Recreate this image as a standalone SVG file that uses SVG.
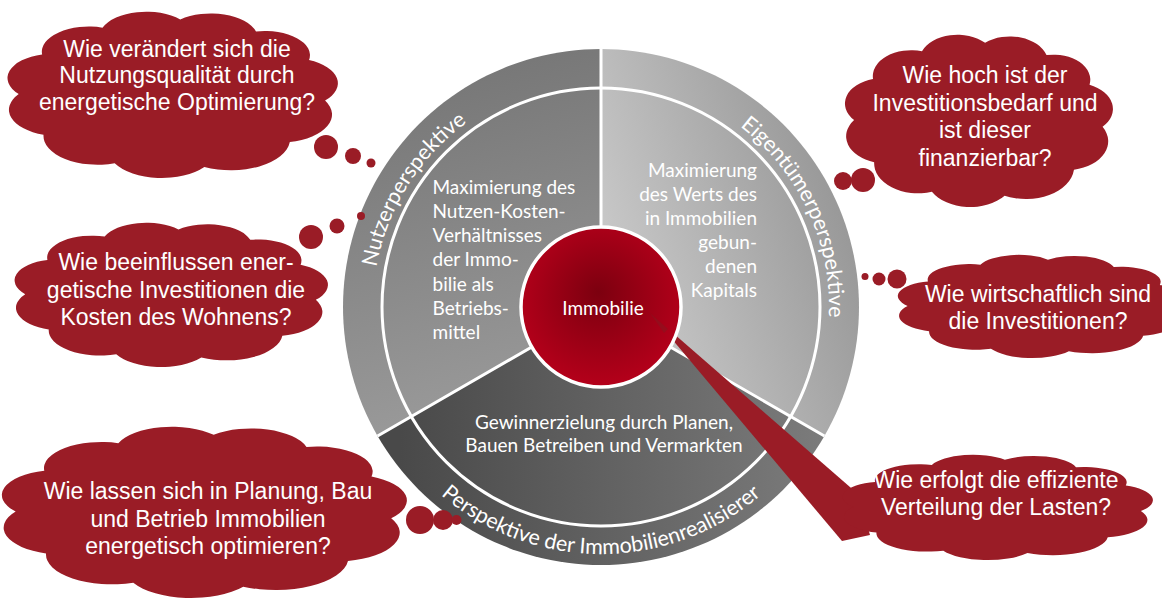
<svg xmlns="http://www.w3.org/2000/svg" xmlns:xlink="http://www.w3.org/1999/xlink" width="1162" height="600" viewBox="0 0 1162 600">
<style>
.cloud{fill:#9a1c26}
.ct{font-family:"Liberation Sans",Arial,sans-serif;font-size:23px;fill:#fff;text-anchor:middle}
.wt{font-family:Lato,"Open Sans",sans-serif;font-size:19px;fill:#fff}
.rt{font-family:Lato,"Open Sans",sans-serif;font-size:21.5px;fill:#fff}
.sep{stroke:#fff;stroke-width:3;fill:none}
</style>
<defs>
<path id="cloudShape" d="M6,50 A13,13 0 0 1 12.7,28.8 A13.5,13.5 0 0 1 30,14.4 A13.5,13.5 0 0 1 52.3,10 A13.5,13.5 0 0 1 74,16.4 A13,13 0 0 1 89.2,31.8 A13.5,13.5 0 0 1 93.8,53.5 A15,15 0 0 1 83.7,75.7 A17,17 0 0 1 59.2,89.1 A15.5,15.5 0 0 1 33.5,87.1 A15.5,15.5 0 0 1 13.1,71.8 A14,14 0 0 1 6,50 Z"/>
<linearGradient id="gL" gradientUnits="userSpaceOnUse" x1="420" y1="70" x2="520" y2="440"><stop offset="0" stop-color="#767676"/><stop offset="1" stop-color="#9d9d9d"/></linearGradient>
<linearGradient id="gR" gradientUnits="userSpaceOnUse" x1="630" y1="330" x2="860" y2="250"><stop offset="0" stop-color="#c9c9c9"/><stop offset="1" stop-color="#989898"/></linearGradient>
<linearGradient id="gB" gradientUnits="userSpaceOnUse" x1="400" y1="450" x2="820" y2="450"><stop offset="0" stop-color="#494949"/><stop offset="1" stop-color="#7b7b7b"/></linearGradient>
<radialGradient id="gC" gradientUnits="userSpaceOnUse" cx="601" cy="300" r="84" fx="598" fy="292"><stop offset="0" stop-color="#7c000f"/><stop offset="1" stop-color="#b3001a"/></radialGradient>
<path id="arcSide" d="M403.5,421 A228,228 0 1 1 798.5,421"/>
<path id="arcBottom" d="M368.9,391.5 A247,247 0 0 0 833.1,391.5"/>
</defs>

<g id="wheel">
  <g id="sector-nutzer">
    <path d="M601,307 L377.57,436 A258,258 0 0 1 601,49 Z" fill="url(#gL)"/>
  </g>
  <g id="sector-eigentuemer">
    <path d="M601,307 L601,49 A258,258 0 0 1 824.43,436 Z" fill="url(#gR)"/>
  </g>
  <g id="sector-realisierer">
    <path d="M601,307 L824.43,436 A258,258 0 0 1 377.57,436 Z" fill="url(#gB)"/>
  </g>
  <path class="sep" d="M601,307 L601,48 M601,307 L377.57,436 M601,307 L824.43,436"/>
  <circle class="sep" cx="601" cy="307" r="219" stroke-width="2.5"/>
  <text class="rt"><textPath xlink:href="#arcSide" href="#arcSide" startOffset="246.7" text-anchor="middle">Nutzerperspektive</textPath></text>
  <text class="rt"><textPath xlink:href="#arcSide" href="#arcSide" startOffset="736" text-anchor="middle">Eigentümerperspektive</textPath></text>
  <text class="rt"><textPath xlink:href="#arcBottom" href="#arcBottom" startOffset="50%" text-anchor="middle">Perspektive der Immobilienrealisierer</textPath></text>
  <text class="wt" x="432.5"><tspan x="432.5" y="193.7">Maximierung des</tspan><tspan x="432.5" y="217.9">Nutzen-Kosten-</tspan><tspan x="432.5" y="242.1">Verhältnisses</tspan><tspan x="432.5" y="266.3">der Immo-</tspan><tspan x="432.5" y="290.5">bilie als</tspan><tspan x="432.5" y="314.7">Betriebs-</tspan><tspan x="432.5" y="338.9">mittel</tspan></text>
  <text class="wt" text-anchor="end"><tspan x="757" y="176.8">Maximierung</tspan><tspan x="757" y="200.8">des Werts des</tspan><tspan x="757" y="224.8">in Immobilien</tspan><tspan x="757" y="248.8">gebun-</tspan><tspan x="757" y="272.8">denen</tspan><tspan x="757" y="296.8">Kapitals</tspan></text>
  <text class="wt" text-anchor="middle"><tspan x="604" y="428.5">Gewinnerzielung durch Planen,</tspan><tspan x="604" y="452">Bauen Betreiben und Vermarkten</tspan></text>
</g>

<g id="connectors">
  <polygon class="cloud" points="650,313 858,494 870,535 842,541"/>
  <circle class="cloud" cx="326" cy="147" r="12"/>
  <circle class="cloud" cx="353" cy="156" r="8"/>
  <circle class="cloud" cx="371" cy="163" r="4.5"/>
  <circle class="cloud" cx="311" cy="237" r="12"/>
  <circle class="cloud" cx="337" cy="226" r="7.5"/>
  <circle class="cloud" cx="361" cy="216" r="4"/>
  <circle class="cloud" cx="420" cy="520" r="14"/>
  <circle class="cloud" cx="443" cy="520" r="10"/>
  <circle class="cloud" cx="456.5" cy="520" r="5"/>
  <circle class="cloud" cx="843" cy="181" r="9"/>
  <circle class="cloud" cx="863" cy="180" r="12"/>
  <circle class="cloud" cx="897" cy="279" r="9.5"/>
  <circle class="cloud" cx="879" cy="279" r="6.5"/>
  <circle class="cloud" cx="865" cy="276.5" r="3.5"/>
</g>

<g id="immobilie">
  <circle cx="601" cy="307" r="80" fill="url(#gC)" stroke="#fff" stroke-width="3.5"/>
  <polygon points="650,313 668,329 664,333" fill="#8a1420" opacity="0.6"/>
  <text class="wt" x="603" y="315.3" text-anchor="middle">Immobilie</text>
</g>

<g id="cloud-nutzungsqualitaet">
  <use xlink:href="#cloudShape" href="#cloudShape" class="cloud" transform="translate(-2.2,0.8) scale(3.489,1.865)"/>
  <text class="ct"><tspan x="177" y="56.7">Wie verändert sich die</tspan><tspan x="177" y="83.3">Nutzungsqualität durch</tspan><tspan x="177" y="110">energetische Optimierung?</tspan></text>
</g>
<g id="cloud-kosten-wohnen">
  <use xlink:href="#cloudShape" href="#cloudShape" class="cloud" transform="translate(5.4,213.3) scale(3.309,1.618)"/>
  <text class="ct"><tspan x="176" y="270">Wie beeinflussen ener-</tspan><tspan x="176" y="297.5">getische Investitionen die</tspan><tspan x="176" y="325">Kosten des Wohnens?</tspan></text>
</g>
<g id="cloud-planung-bau">
  <use xlink:href="#cloudShape" href="#cloudShape" class="cloud" transform="translate(-10,415.5) scale(4.277,1.921)"/>
  <text class="ct"><tspan x="208" y="499.3">Wie lassen sich in Planung, Bau</tspan><tspan x="208" y="526.5">und Betrieb Immobilien</tspan><tspan x="208" y="554">energetisch optimieren?</tspan></text>
</g>
<g id="cloud-investitionsbedarf">
  <use xlink:href="#cloudShape" href="#cloudShape" class="cloud" transform="translate(837.1,23.4) scale(2.83,1.933)"/>
  <text class="ct"><tspan x="985" y="83">Wie hoch ist der</tspan><tspan x="985" y="110.5">Investitionsbedarf und</tspan><tspan x="985" y="138">ist dieser</tspan><tspan x="985" y="165.5">finanzierbar?</tspan></text>
</g>
<g id="cloud-wirtschaftlichkeit">
  <use xlink:href="#cloudShape" href="#cloudShape" class="cloud" transform="translate(889.4,248.1) scale(3.032,1.157)"/>
  <text class="ct"><tspan x="1038" y="301.7">Wie wirtschaftlich sind</tspan><tspan x="1038" y="329.3">die Investitionen?</tspan></text>
</g>
<g id="cloud-lasten">
  <use xlink:href="#cloudShape" href="#cloudShape" class="cloud" transform="translate(833.5,447.9) scale(3.277,1.18)"/>
  <text class="ct"><tspan x="996" y="488.3">Wie erfolgt die effiziente</tspan><tspan x="996" y="515">Verteilung der Lasten?</tspan></text>
</g>
</svg>
